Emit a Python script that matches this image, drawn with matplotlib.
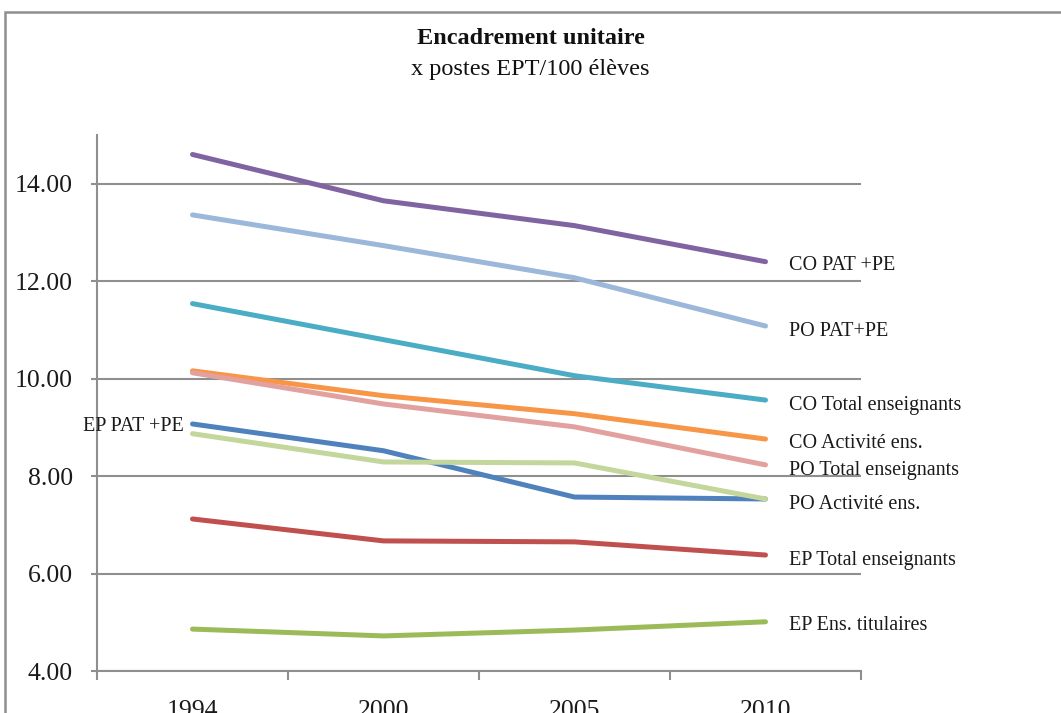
import matplotlib
matplotlib.use("Agg")
import matplotlib.pyplot as plt
from matplotlib.patches import Rectangle

years = ["1994", "2000", "2005", "2010"]

co_pat_pe = [14.60, 13.65, 13.14, 12.40]
po_pat_pe = [13.36, 12.73, 12.07, 11.08]
co_total_ens = [11.54, 10.80, 10.06, 9.56]
co_activite_ens = [10.16, 9.65, 9.28, 8.76]
po_total_ens = [10.12, 9.48, 9.01, 8.23]
ep_pat_pe = [9.07, 8.52, 7.57, 7.53]
po_activite_ens = [8.87, 8.29, 8.27, 7.53]
ep_total_ens = [7.12, 6.67, 6.65, 6.38]
ep_ens_titulaires = [4.86, 4.72, 4.84, 5.01]

series = [
    ("CO PAT +PE", co_pat_pe, "#8064A2", -4),
    ("PO PAT+PE", po_pat_pe, "#9BB7D9", -5),
    ("CO Total enseignants", co_total_ens, "#4BACC6", -5),
    ("CO Activité ens.", co_activite_ens, "#F79646", -4),
    ("PO Total enseignants", po_total_ens, "#E2A09E", -6),
    ("PO Activité ens.", po_activite_ens, "#C3D69B", -6),
    ("EP Total enseignants", ep_total_ens, "#C0504D", -5),
    ("EP Ens. titulaires", ep_ens_titulaires, "#9BBB59", -4),
]
ep_pat_label = ("EP PAT +PE", ep_pat_pe, "#4F81BD")

plt.rcParams["font.family"] = ["Liberation Serif", "DejaVu Serif"]

fig = plt.figure(figsize=(10.61, 7.13), dpi=100)
fig.patches.append(Rectangle((5 / 1061, -0.1), 1.2, 1.1 - 12 / 713,
                             transform=fig.transFigure, fill=False,
                             edgecolor="#8f8f8f", linewidth=1.8))

ax = fig.add_axes([97 / 1061, 1 - 671 / 713, (861 - 97) / 1061, (671 - 135) / 713])
x = list(range(len(years)))

draw_order = [series[0], series[1], series[2], series[3], series[4],
              (ep_pat_label[0], ep_pat_label[1], ep_pat_label[2], 0),
              series[5], series[6], series[7]]
for name, vals, color, _ in draw_order:
    ax.plot(x, vals, color=color, linewidth=3.6, solid_capstyle="round", zorder=3)

for name, vals, color, dy in series:
    ax.annotate(name, xy=(x[-1], vals[-1]), xytext=(17, dy * 0.72),
                textcoords="offset points", ha="left", va="center",
                fontsize=14.5, color="#1a1a1a", annotation_clip=False)
ax.annotate(ep_pat_label[0], xy=(x[0], ep_pat_label[1][0]), xytext=(-6, -2),
            textcoords="offset points", ha="right", va="center",
            fontsize=14.5, color="#1a1a1a", annotation_clip=False)

ax.set_xlim(-0.5, 3.5)
ax.set_ylim(4, 15)
ax.set_yticks([4, 6, 8, 10, 12, 14])
ax.set_yticklabels([f"{v:.2f}" for v in [4, 6, 8, 10, 12, 14]])
ax.set_xticks(x)
ax.set_xticklabels(years)
ax.set_xticks([-0.5, 0.5, 1.5, 2.5, 3.5], minor=True)
ax.tick_params(axis="x", which="major", length=0, labelsize=18.5, pad=21, colors="#1a1a1a")
ax.tick_params(axis="x", which="minor", length=6.5, width=1.5, color="#8f8f8f")
ax.tick_params(axis="y", length=4.5, width=1.5, color="#8f8f8f", labelsize=18.5,
               pad=13, labelcolor="#1a1a1a")

for s in ["top", "right"]:
    ax.spines[s].set_visible(False)
for s in ["left", "bottom"]:
    ax.spines[s].set_color("#8f8f8f")
    ax.spines[s].set_linewidth(1.5)
ax.grid(axis="y", color="#8f8f8f", linewidth=1.5, zorder=1)
ax.set_axisbelow(True)

fig.text(0.5, 1 - 38 / 713, "Encadrement unitaire", ha="center", va="center",
         fontsize=17.5, fontweight="bold", color="#111111")
fig.text(0.5, 1 - 70 / 713, "x postes EPT/100 élèves", ha="center", va="center",
         fontsize=17.5, color="#111111")

fig.savefig("out.png", dpi=100)
